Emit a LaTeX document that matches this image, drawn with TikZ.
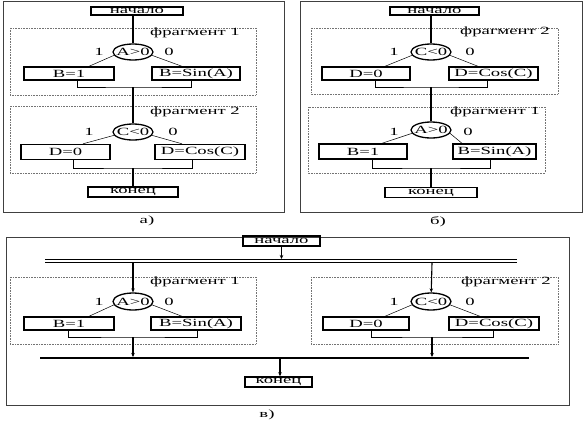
\documentclass[tikz,border=0pt]{standalone}
\usepackage{fontspec}
\setmainfont{Liberation Serif}[FakeStretch=1.7]
\usetikzlibrary{arrows.meta,positioning,shapes.geometric}

\begin{document}
\begin{tikzpicture}[
    x=1pt, y=-1pt,
    >={Stealth[length=4pt,width=3.5pt]},
    font=\fontsize{11}{11}\selectfont,
    block/.style={rectangle, draw, line width=1.4pt, inner sep=0pt,
                  minimum height=#1},
    block/.default=13pt,
    cond/.style={ellipse, draw, line width=1.3pt, inner sep=0pt,
                 minimum width=40pt, minimum height=16pt},
    tag/.style={inner sep=0pt},
    frag/.style={draw=black!55, densely dotted, line width=0.6pt},
    frame/.style={draw=black!75, line width=0.8pt},
    link/.style={line width=0.5pt},
    trunk/.style={line width=1.1pt},
]
\useasboundingbox (0,0) rectangle (588,420);

% ── Panel a ──
\draw[frame] (3,1) rectangle (284,212);
\node[block=8pt, minimum width=92pt] (startA) at (137,11) {начало};

\draw[frag] (10,28) rectangle (256,95);
\node[tag] (fragOneA) at (195,33) {фрагмент 1};
\node[cond] (condAa) at (133,52) {\makebox[0pt]{A>0}};
\node[tag] (oneAa) at (99,52) {1};
\node[tag] (zeroAa) at (169,52) {0};
\node[block, minimum width=90pt] (bOneA) at (69,73.5) {B=1};
\node[block, minimum width=88pt] (bSinA) at (196,73.5) {B=Sin(A)};
\coordinate (mergeAa) at (133,87);

\draw[frag] (10,106) rectangle (256,173);
\node[tag] (fragTwoA) at (195,112) {фрагмент 2};
\node[cond] (condCa) at (133,132) {\makebox[0pt]{C<0}};
\node[tag] (oneCa) at (89,132) {1};
\node[tag] (zeroCa) at (173,132) {0};
\node[block=15pt, minimum width=89pt] (dZeroA) at (65.5,152) {D=0};
\node[block=15pt, minimum width=90pt] (dCosA) at (200,152) {D=Cos(C)};
\coordinate (mergeCa) at (133,168);

\node[block=10pt, minimum width=90pt] (endA) at (133,192) {конец};
\node (labelA) at (147,221) {а)};

\draw[trunk] (startA.south -| condAa) -- (condAa);
\draw[link] (condAa.190) -- ([xshift=20pt]bOneA.north);
\draw[link] (condAa.350) -- ([xshift=-14pt]bSinA.north);
\draw[link] ([xshift=8pt]bOneA.south) |- (mergeAa) -| ([xshift=-5pt]bSinA.south);
\draw[trunk] (mergeAa) -- (condCa);
\draw[link] (condCa.190) -- ([xshift=17.5pt]dZeroA.north);
\draw[link] (condCa.350) -- ([xshift=-18pt]dCosA.north);
\draw[link] ([xshift=7.5pt]dZeroA.south) |- (mergeCa) -| ([xshift=-8pt]dCosA.south);
\draw[trunk] (mergeCa) -- (endA);

% ── Panel b ──
\draw[frame] (300,1) rectangle (582,212);
\node[block=8pt, minimum width=89pt] (startB) at (434.5,11) {начало};

\draw[frag] (311,28) rectangle (558,94);
\node[tag] (fragTwoB) at (505,32) {фрагмент 2};
\node[cond] (condCb) at (431,52) {\makebox[0pt]{C<0}};
\node[tag] (oneCb) at (394,52) {1};
\node[tag] (zeroCb) at (470,52) {0};
\node[block, minimum width=88pt] (dZeroB) at (366,73.5) {D=0};
\node[block, minimum width=89pt] (dCosB) at (493.5,73.5) {D=Cos(C)};
\coordinate (mergeCb) at (431,87);

\draw[frag] (308,107) rectangle (545,173);
\node[tag] (fragOneB) at (495,112) {фрагмент 1};
\node[cond] (condAb) at (431,130) {\makebox[0pt]{A>0}};
\node[tag] (oneAb) at (394,132) {1};
\node[tag] (zeroAb) at (468,132) {0};
\node[block=15pt, minimum width=88pt] (bOneB) at (363,151.5) {B=1};
\node[block=15pt, minimum width=83pt] (bSinB) at (494.5,151.5) {B=Sin(A)};
\coordinate (mergeAb) at (431,168);

\node[block=10pt, minimum width=92pt] (endB) at (431,192.5) {конец};
\node (labelB) at (438,222) {б)};

\draw[trunk] (startB.south -| condCb) -- (condCb);
\draw[link] (condCb.190) -- ([xshift=19pt]dZeroB.north);
\draw[link] (condCb.350) -- ([xshift=-15.5pt]dCosB.north);
\draw[link] ([xshift=9pt]dZeroB.south) |- (mergeCb) -| ([xshift=-6.5pt]dCosB.south);
\draw[trunk] (mergeCb) -- (condAb);
\draw[link] (condAb.190) -- ([xshift=19pt]bOneB.north);
\draw[link] (condAb.350) -- ([xshift=-32.5pt]bSinB.north);
\draw[link] ([xshift=9pt]bOneB.south) |- (mergeAb) -| ([xshift=-4.5pt]bSinB.south);
\draw[trunk] (mergeAb) -- (endB);

% ── Panel c ──
\draw[frame] (6,237) rectangle (569,405);
\node[block=10pt, minimum width=77pt] (startC) at (281.5,241) {начало};

% fork (double bar) and join (thick bar)
\coordinate (forkL) at (45,261);
\coordinate (forkR) at (517,261);
\coordinate (forkIn) at (281.5,259);
\coordinate (forkA) at (133,263);
\coordinate (forkC) at (432,263);
\draw[line width=1pt, double distance=2.5pt] (forkL) -- (forkR);
\coordinate (joinL) at (40,358);
\coordinate (joinR) at (529,358);
\coordinate (joinA) at (133,357);
\coordinate (joinC) at (432,357);
\coordinate (joinOut) at (280,359);
\draw[line width=2pt] (joinL) -- (joinR);

\draw[frag] (10,277) rectangle (256,344);
\node[tag] (fragOneC) at (195,282) {фрагмент 1};
\node[cond, minimum height=17pt] (condAc) at (133,301.5) {\makebox[0pt]{A>0}};
\node[tag] (oneAc) at (99,302) {1};
\node[tag] (zeroAc) at (169,302) {0};
\node[block, minimum width=90pt] (bOneC) at (69,323.5) {B=1};
\node[block, minimum width=90pt] (bSinC) at (196,323.5) {B=Sin(A)};
\coordinate (mergeAc) at (133,337);

\draw[frag] (311,277) rectangle (558,344);
\node[tag] (fragTwoC) at (506,282) {фрагмент 2};
\node[cond, minimum height=17pt] (condCc) at (431,301.5) {\makebox[0pt]{C<0}};
\node[tag] (oneCc) at (394,302) {1};
\node[tag] (zeroCc) at (470,302) {0};
\node[block, minimum width=86pt] (dZeroC) at (366,323.5) {D=0};
\node[block, minimum width=90pt] (dCosC) at (494,323.5) {D=Cos(C)};
\coordinate (mergeCc) at (432,337);

\node[block=10pt, minimum width=67pt] (endC) at (278.5,382) {конец};
\node (labelC) at (267,415) {в)};

\draw[trunk, ->] (startC) -- (forkIn);
\draw[trunk, ->] (forkA) -- (condAc);
\draw[trunk, ->] (forkC) -- (condCc);
\draw[link] (condAc.190) -- ([xshift=20pt]bOneC.north);
\draw[link] (condAc.350) -- ([xshift=-14pt]bSinC.north);
\draw[link] ([xshift=-1pt]bOneC.south) |- (mergeAc) -| ([xshift=1pt]bSinC.south);
\draw[link] (condCc.190) -- ([xshift=19pt]dZeroC.north);
\draw[link] (condCc.350) -- ([xshift=-14pt]dCosC.north);
\draw[link] ([xshift=5pt]dZeroC.south) |- (mergeCc) -| ([xshift=-1pt]dCosC.south);
\draw[trunk, ->] (mergeAc) -- (joinA);
\draw[trunk, ->] (mergeCc) -- (joinC);
\draw[trunk, ->] (joinOut) -- (joinOut |- endC.north);

\end{tikzpicture}
\end{document}
